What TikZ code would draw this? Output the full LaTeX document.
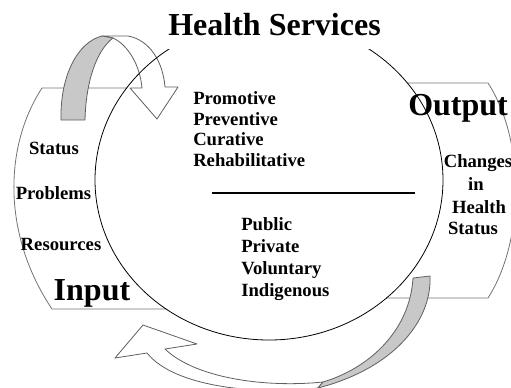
\documentclass[tikz,border=0pt]{standalone}
\usepackage{fontspec}
\setmainfont{Liberation Serif}
\usetikzlibrary{calc}

\tikzset{
  bandline/.style={draw={rgb, 255:red, 115; green, 115; blue, 115 }, line width=0.6},
  arrowpart/.style={draw={rgb, 255:red, 95; green, 95; blue, 95 }, line width=0.6, line join=round},
  bigtxt/.style={font=\fontsize{24}{28}\selectfont\bfseries, inner sep=0pt},
  smalltxt/.style={font=\fontsize{14}{16}\selectfont\bfseries, inner sep=0pt}
}

\begin{document}
\begin{tikzpicture}[x=0.75pt,y=0.75pt,yscale=-1,xscale=1]
\useasboundingbox (0,0) rectangle (511,387);
\clip (0,0) rectangle (511,387);

%Shape: Input band
\draw [bandline]  (127,88) -- (42,88) .. controls (3,148) and (3,236) .. (52,309) -- (166,309) ;
%Shape: Output band
\draw [bandline]  (407,83) -- (488,83) .. controls (525,140) and (525,240) .. (488,298) -- (386,298) ;

%Shape: Curved Arrow top, front face
\draw [arrowpart, fill=white]  (102,36) -- (128,36) .. controls (150,40) and (163,62) .. (165,87) -- (178,87) -- (157,119) -- (130,88) -- (142,88) .. controls (140,65) and (128,45) .. (113,38) -- cycle ;
%Shape: Curved Arrow top, back face
\draw [arrowpart, fill={rgb, 255:red, 200; green, 200; blue, 200 }]  (61,120) .. controls (60,75) and (78,42) .. (102,36) -- (113,38) .. controls (97,50) and (86,80) .. (85,120) -- cycle ;

%Shape: Curved Arrow bottom, front face
\draw [arrowpart, fill=white]  (115,358) -- (143,325) -- (197,344) -- (165,349) .. controls (195,378) and (265,388) .. (323,382) -- (318,388) .. controls (260,395) and (175,388) .. (147,353) -- cycle ;
%Shape: Curved Arrow bottom, back face
\draw [arrowpart, fill={rgb, 255:red, 200; green, 200; blue, 200 }]  (413,278) -- (430,276) .. controls (432,320) and (395,368) .. (318,388) -- (323,382) .. controls (370,368) and (410,330) .. (413,278) -- cycle ;

%Shape: Ellipse
\draw [line width=0.6]  (269,180) ellipse [x radius=174, y radius=160] ;

%Straight Lines
\draw [line width=1.6]  (212,193) -- (415,193) ;

% Text Node
\node [bigtxt, fill=white, inner xsep=3pt, inner ysep=10.5pt, anchor=base] (title) at (274.5,35) {Health Services};
% Text Node
\node [bigtxt, anchor=base] (input) at (92,300) {Input};
% Text Node
\node [bigtxt, anchor=base west] (output) at (408,115) {Output};
% Text Node
\node [smalltxt, anchor=base] (status) at (54,154) {Status};
% Text Node
\node [smalltxt, anchor=base] (problems) at (53.5,199) {Problems};
% Text Node
\node [smalltxt, anchor=base] (resources) at (61,250) {Resources};
% Text Node
\node [smalltxt, anchor=base west] (promotive) at (193,104) {Promotive};
% Text Node
\node [smalltxt, anchor=base west] (preventive) at (193,125) {Preventive};
% Text Node
\node [smalltxt, anchor=base west] (curative) at (193,145) {Curative};
% Text Node
\node [smalltxt, anchor=base west] (rehab) at (193,166) {Rehabilitative};
% Text Node
\node [smalltxt, anchor=base west] (public) at (241,230) {Public};
% Text Node
\node [smalltxt, anchor=base west] (private) at (241,252) {Private};
% Text Node
\node [smalltxt, anchor=base west] (voluntary) at (241,274) {Voluntary};
% Text Node
\node [smalltxt, anchor=base west] (indigenous) at (241,296) {Indigenous};
% Text Node
\node [smalltxt, anchor=base] (changes) at (478,167) {Changes};
% Text Node
\node [smalltxt, anchor=base] (in) at (476,190) {in};
% Text Node
\node [smalltxt, anchor=base] (health) at (479,213) {Health};
% Text Node
\node [smalltxt, anchor=base] (hstatus) at (473,234.5) {Status};

\end{tikzpicture}
\end{document}
